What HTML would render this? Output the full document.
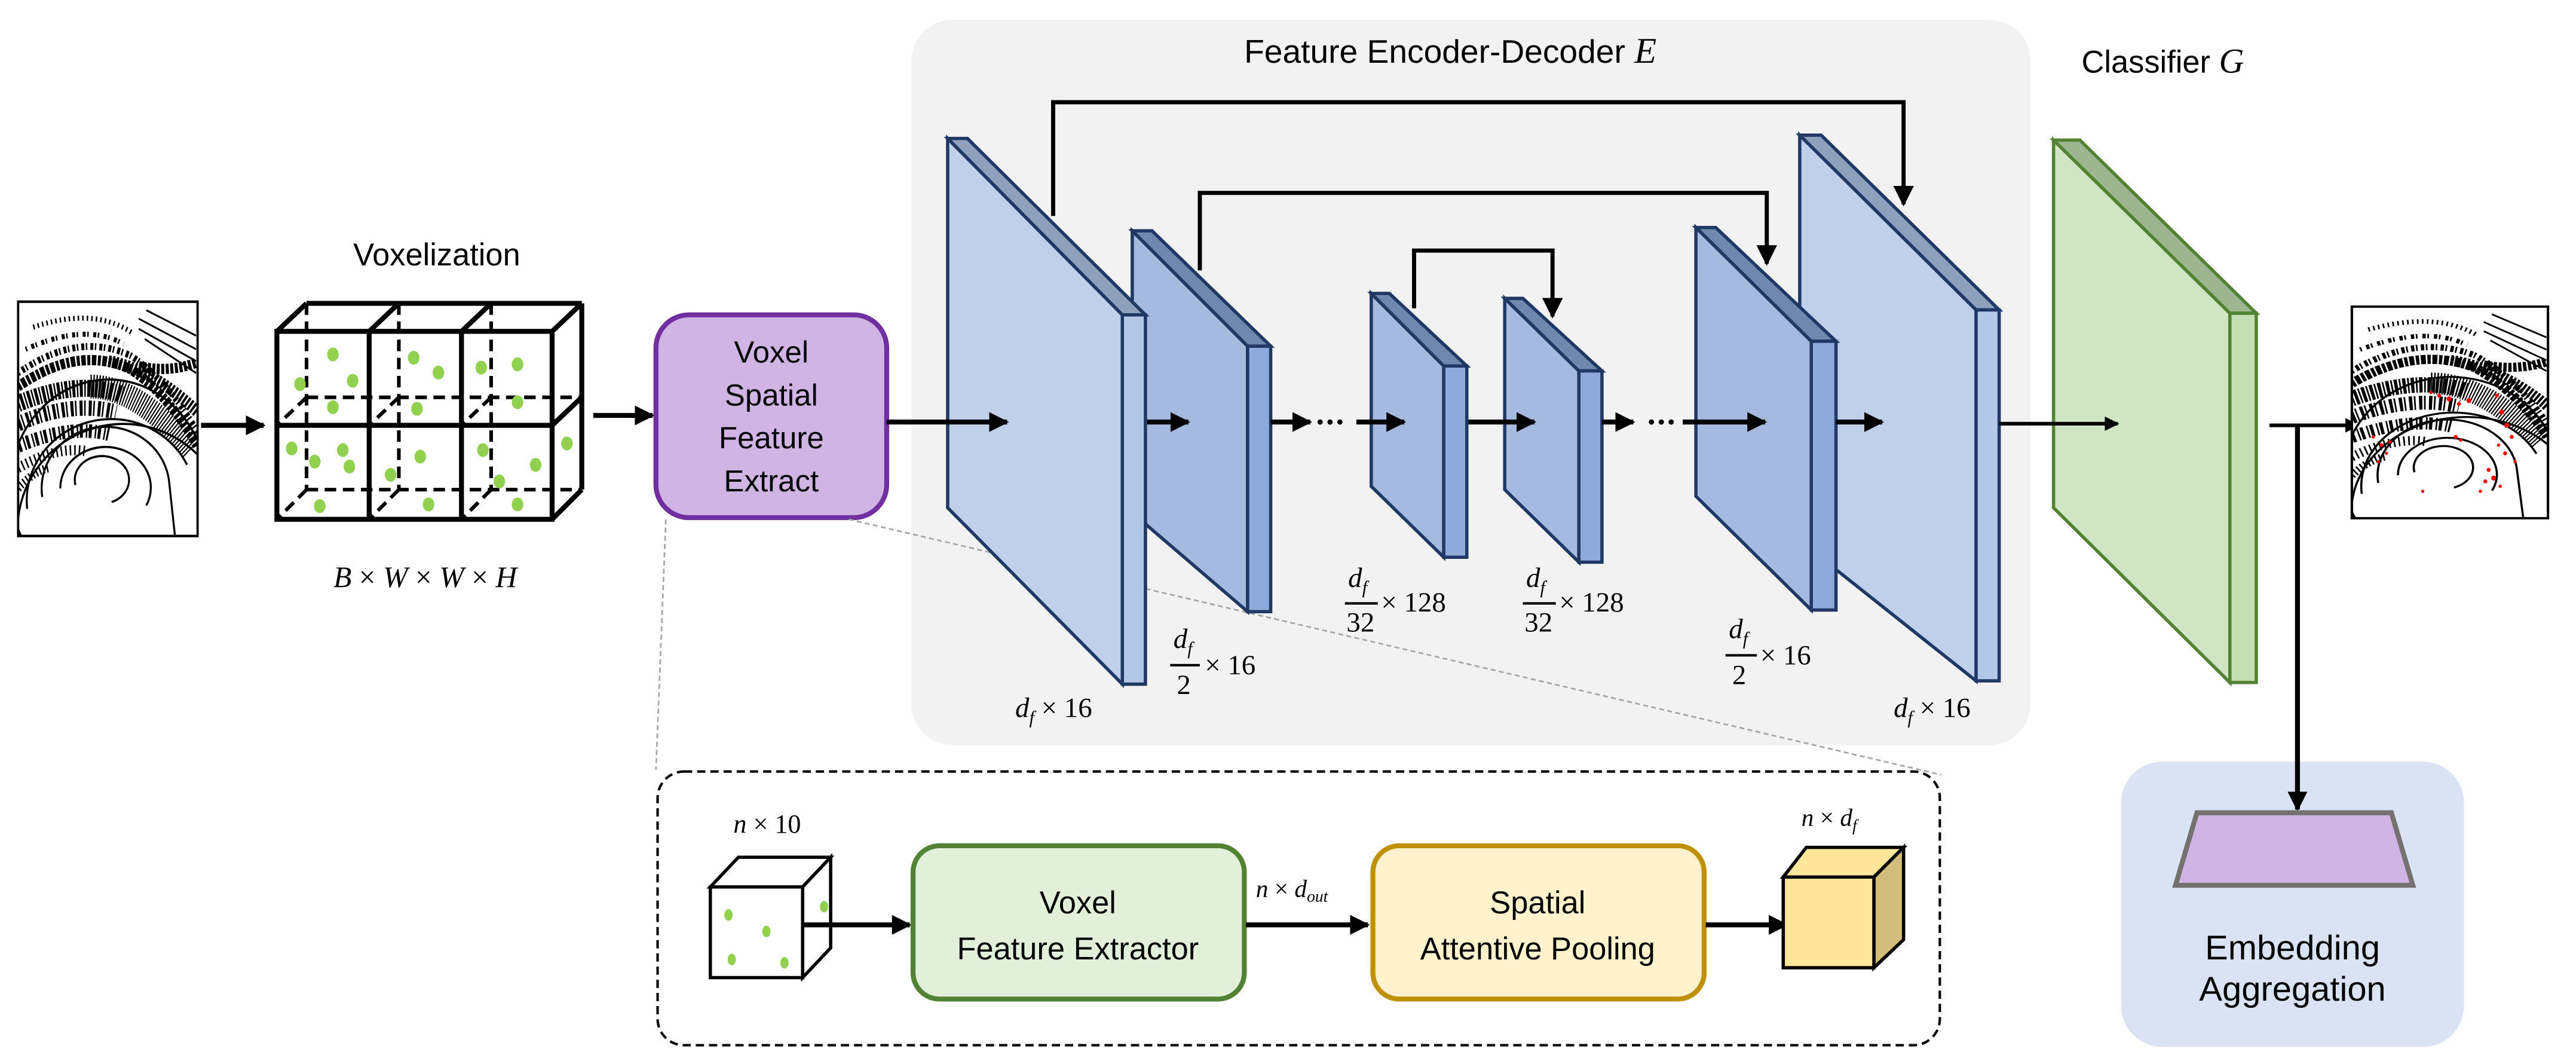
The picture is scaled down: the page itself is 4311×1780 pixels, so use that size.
<!DOCTYPE html>
<html><head><meta charset="utf-8"><style>
html,body{margin:0;padding:0;background:#fff;}
svg{display:block;}
.t{font-family:"Liberation Sans",sans-serif;fill:#000;}
.m{font-family:"Liberation Serif",serif;font-style:italic;fill:#000;}
.n{font-family:"Liberation Serif",serif;fill:#000;}
</style></head><body>
<svg width="4311" height="1780" viewBox="0 0 1563 645.4" preserveAspectRatio="none" xmlns="http://www.w3.org/2000/svg">
<defs>
<marker id="ah" viewBox="0 0 10 10" refX="9" refY="5" markerWidth="4" markerHeight="4" orient="auto"><path d="M0,0 L10,5 L0,10 z" fill="#000"/></marker>
<marker id="ah2" viewBox="0 0 10 10" refX="9" refY="5" markerWidth="5" markerHeight="5" orient="auto"><path d="M0,0 L10,5 L0,10 z" fill="#000"/></marker>
<clipPath id="lc"><rect x="0" y="0" width="119" height="138"/></clipPath>
<g id="lidar">
<rect x="0" y="0" width="119" height="138" fill="#fff"/>
<g clip-path="url(#lc)">
<g fill="none" stroke="#000" stroke-width="1.3">
<path d="M38,108 A18,14 0 1 1 62,118"/>
<path d="M28,110 A30,24 0 1 1 85,120"/>
<path d="M16,115 A42,36 0 0 1 100,105 L104,138"/>
<path d="M6,122 A56,48 0 0 1 112,96"/>
<path d="M2,138 A62,60 0 0 1 118,80"/>
<path d="M0,128 A70,62 0 0 1 119,90"/>
</g>
<g fill="none" stroke="#000">
<path d="M0,50 Q40,25 75,40 Q100,55 119,85" stroke-width="6" stroke-dasharray="2 1 3 1"/>
<path d="M0,42 Q40,17 75,32 Q100,47 119,77" stroke-width="4" stroke-dasharray="1 2 2 1"/>
<path d="M0,60 Q40,45 70,55" stroke-width="10" stroke-dasharray="1 1 2 1"/>
<path d="M0,72 Q35,58 65,65" stroke-width="9" stroke-dasharray="2 1 1 2"/>
<path d="M0,85 Q35,72 60,78" stroke-width="8" stroke-dasharray="2 2 1 1"/>
<path d="M0,98 Q25,85 45,88" stroke-width="6" stroke-dasharray="1 2"/>
<path d="M48,50 Q80,50 115,88" stroke-width="14" stroke-dasharray="0.8 1"/>
<path d="M60,35 Q90,40 119,65" stroke-width="7" stroke-dasharray="1.5 1"/>
<path d="M85,5 L118,20 M80,10 L118,28 M80,16 L118,35 M84,22 L118,42" stroke-width="1.1"/>
<path d="M10,15 Q50,3 75,18" stroke-width="3" stroke-dasharray="1 2"/>
<path d="M5,28 Q45,12 70,25" stroke-width="3" stroke-dasharray="1 3 2 1"/>
<path d="M80,38 Q100,42 118,36" stroke-width="6" stroke-dasharray="2 1"/>
<path d="M0,110 Q10,100 20,98" stroke-width="5" stroke-dasharray="1 1.5"/>
</g>
</g>
<rect x="0" y="0" width="119" height="138" fill="none" stroke="#000" stroke-width="1.5"/>
</g>
</defs>

<!-- input lidar -->
<g transform="translate(11,183) scale(0.915,1.03)"><use href="#lidar"/></g>
<line x1="122" y1="258" x2="160" y2="258" stroke="#000" stroke-width="3" marker-end="url(#ah)"/>

<!-- voxel grid -->
<text x="265" y="161" class="t" font-size="19" text-anchor="middle">Voxelization</text>
<g stroke="#000" fill="none">
<g stroke-width="2.2" stroke-dasharray="7 4">
<line x1="186" y1="184" x2="186" y2="297"/><line x1="242" y1="184" x2="242" y2="297"/><line x1="298" y1="184" x2="298" y2="297"/>
<line x1="186" y1="241" x2="353" y2="241"/><line x1="186" y1="297" x2="353" y2="297"/>
<line x1="186" y1="241" x2="168" y2="258"/><line x1="242" y1="241" x2="224" y2="258"/><line x1="298" y1="241" x2="280" y2="258"/>
<line x1="186" y1="297" x2="168" y2="315"/><line x1="242" y1="297" x2="224" y2="315"/><line x1="298" y1="297" x2="280" y2="315"/>
</g>
<g stroke-width="3">
<line x1="186" y1="184" x2="353" y2="184"/>
<line x1="353" y1="184" x2="353" y2="297"/>
<line x1="186" y1="184" x2="168" y2="201"/><line x1="242" y1="184" x2="224" y2="201"/><line x1="298" y1="184" x2="280" y2="201"/><line x1="353" y1="184" x2="335" y2="201"/>
<line x1="353" y1="241" x2="335" y2="258"/><line x1="353" y1="297" x2="335" y2="315"/>
<rect x="168" y="201" width="167" height="114"/>
<line x1="168" y1="258" x2="335" y2="258"/>
<line x1="224" y1="201" x2="224" y2="315"/><line x1="280" y1="201" x2="280" y2="315"/>
</g>
</g>
<g fill="#92d050">
<ellipse cx="202" cy="215" rx="3.5" ry="4.2"/><ellipse cx="182" cy="233" rx="3.5" ry="4.2"/><ellipse cx="214" cy="231" rx="3.5" ry="4.2"/><ellipse cx="202" cy="247" rx="3.5" ry="4.2"/>
<ellipse cx="251" cy="217" rx="3.5" ry="4.2"/><ellipse cx="266" cy="226" rx="3.5" ry="4.2"/><ellipse cx="253" cy="248" rx="3.5" ry="4.2"/><ellipse cx="292" cy="223" rx="3.5" ry="4.2"/>
<ellipse cx="314" cy="221" rx="3.5" ry="4.2"/><ellipse cx="314" cy="244" rx="3.5" ry="4.2"/><ellipse cx="177" cy="272" rx="3.5" ry="4.2"/><ellipse cx="208" cy="273" rx="3.5" ry="4.2"/>
<ellipse cx="191" cy="280" rx="3.5" ry="4.2"/><ellipse cx="212" cy="283" rx="3.5" ry="4.2"/><ellipse cx="194" cy="307" rx="3.5" ry="4.2"/><ellipse cx="255" cy="277" rx="3.5" ry="4.2"/>
<ellipse cx="237" cy="288" rx="3.5" ry="4.2"/><ellipse cx="260" cy="306" rx="3.5" ry="4.2"/><ellipse cx="293" cy="273" rx="3.5" ry="4.2"/><ellipse cx="325" cy="282" rx="3.5" ry="4.2"/>
<ellipse cx="303" cy="292" rx="3.5" ry="4.2"/><ellipse cx="314" cy="306" rx="3.5" ry="4.2"/><ellipse cx="344" cy="269" rx="3.5" ry="4.2"/>
</g>
<text x="258" y="356" class="m" font-size="18" text-anchor="middle">B <tspan class="n" font-style="normal">×</tspan> W <tspan font-style="normal">×</tspan> W <tspan font-style="normal">×</tspan> H</text>
<line x1="360" y1="252" x2="396" y2="252" stroke="#000" stroke-width="3" marker-end="url(#ah)"/>

<!-- purple box -->
<rect x="398" y="191" width="140" height="123" rx="20" fill="#d0b4e4" stroke="#7030a0" stroke-width="3"/>
<g class="t" font-size="18.5" text-anchor="middle">
<text x="468" y="220">Voxel</text><text x="468" y="246">Spatial</text><text x="468" y="272">Feature</text><text x="468" y="298">Extract</text>
</g>

<!-- gray panel -->
<rect x="553" y="12" width="679" height="440" rx="25" fill="#f2f2f2"/>
<text x="880" y="38" class="t" font-size="20" text-anchor="middle">Feature Encoder-Decoder <tspan class="m" font-size="22">E</tspan></text>

<!-- dashed zoom lines -->
<g stroke="#a6a6a6" stroke-width="1" stroke-dasharray="3 2" fill="none">
<line x1="404" y1="315" x2="398" y2="467"/>
<line x1="515" y1="315" x2="1178" y2="470"/>
</g>

<!-- planes -->
<g stroke="#203864" stroke-width="2" stroke-linejoin="miter">
<polygon points="687,140 757,210 757,371 687,311" fill="#a6badf"/>
<polygon points="687,140 699,140 771,210 757,210" fill="#6f88b0"/>
<polygon points="757,210 771,210 771,371 757,371" fill="#8eaadb"/>
<polygon points="575,84 681,191 681,415 575,308" fill="#c0d0ea"/>
<polygon points="575,84 587,84 695,191 681,191" fill="#8ea0bc"/>
<polygon points="681,191 695,191 695,415 681,415" fill="#b3c7e6"/>
<polygon points="832,178 876,222 876,338 832,295" fill="#a6badf"/>
<polygon points="832,178 843,178 890,222 876,222" fill="#6f88b0"/>
<polygon points="876,222 890,222 890,338 876,338" fill="#8eaadb"/>
<polygon points="913,181 958,225 958,341 913,297" fill="#a6badf"/>
<polygon points="913,181 924,181 972,225 958,225" fill="#6f88b0"/>
<polygon points="958,225 972,225 972,341 958,341" fill="#8eaadb"/>
<polygon points="1092,82 1199,188 1199,413 1092,328" fill="#c0d0ea"/>
<polygon points="1092,82 1105,82 1213,188 1199,188" fill="#8ea0bc"/>
<polygon points="1199,188 1213,188 1213,413 1199,413" fill="#b3c7e6"/>
<polygon points="1029,138 1099,207 1099,370 1029,301" fill="#a6badf"/>
<polygon points="1029,138 1041,138 1114,207 1099,207" fill="#6f88b0"/>
<polygon points="1099,207 1114,207 1114,370 1099,370" fill="#8eaadb"/>
</g>

<!-- skip connections -->
<g stroke="#000" stroke-width="2.5" fill="none">
<polyline points="639,131 639,62 1155,62 1155,124" marker-end="url(#ah2)"/>
<polyline points="728,164 728,117 1072,117 1072,160" marker-end="url(#ah2)"/>
<polyline points="858,187 858,152 942,152 942,192" marker-end="url(#ah2)"/>
</g>

<!-- classifier -->
<text x="1263" y="44" class="t" font-size="19">Classifier <tspan class="m" font-size="21">G</tspan></text>
<g stroke="#548235" stroke-width="2">
<polygon points="1246,85 1353,190 1353,414 1246,308" fill="#d0e5c3"/>
<polygon points="1246,85 1262,85 1369,190 1353,190" fill="#9eb690"/>
<polygon points="1353,190 1369,190 1369,414 1353,414" fill="#c5dfb3"/>
</g>

<!-- horizontal arrows -->
<g stroke="#000" stroke-width="3" marker-end="url(#ah)">
<line x1="538" y1="256" x2="611" y2="256"/>
<line x1="696" y1="256" x2="721" y2="256"/>
<line x1="771" y1="256" x2="795" y2="256"/>
<line x1="823" y1="256" x2="852" y2="256"/>
<line x1="891" y1="256" x2="931" y2="256"/>
<line x1="972" y1="256" x2="991" y2="256"/>
<line x1="1021" y1="256" x2="1071" y2="256"/>
<line x1="1114" y1="256" x2="1142" y2="256"/>
</g>
<line x1="1213" y1="257" x2="1285" y2="257" stroke="#000" stroke-width="2.2" marker-end="url(#ah)"/>
<g fill="#000"><circle cx="801" cy="256" r="1.6"/><circle cx="807" cy="256" r="1.6"/><circle cx="813" cy="256" r="1.6"/>
<circle cx="1002" cy="256" r="1.6"/><circle cx="1008" cy="256" r="1.6"/><circle cx="1014" cy="256" r="1.6"/></g>

<!-- plane labels -->
<g font-size="17">
<text x="616" y="435" class="m">d<tspan font-size="11" dy="4">f</tspan><tspan class="n" font-style="normal" dy="-4"> × 16</tspan></text>
<text x="1149" y="435" class="m">d<tspan font-size="11" dy="4">f</tspan><tspan class="n" font-style="normal" dy="-4"> × 16</tspan></text>
<text x="712" y="393" class="m">d<tspan font-size="11" dy="4">f</tspan></text>
<line x1="710" y1="403.5" x2="728" y2="403.5" stroke="#000" stroke-width="1.5"/>
<text x="714" y="421" class="n">2</text>
<text x="731" y="409" class="n">× 16</text>
<text x="1049" y="387" class="m">d<tspan font-size="11" dy="4">f</tspan></text>
<line x1="1047" y1="397.5" x2="1066" y2="397.5" stroke="#000" stroke-width="1.5"/>
<text x="1051" y="415" class="n">2</text>
<text x="1068" y="403" class="n">× 16</text>
<text x="818" y="356" class="m">d<tspan font-size="11" dy="4">f</tspan></text>
<line x1="816" y1="366" x2="836" y2="366" stroke="#000" stroke-width="1.5"/>
<text x="817" y="383" class="n">32</text>
<text x="838" y="371" class="n">× 128</text>
<text x="926" y="356" class="m">d<tspan font-size="11" dy="4">f</tspan></text>
<line x1="924" y1="366" x2="944" y2="366" stroke="#000" stroke-width="1.5"/>
<text x="925" y="383" class="n">32</text>
<text x="946" y="371" class="n">× 128</text>
</g>

<line x1="1377" y1="258" x2="1431" y2="258" stroke="#000" stroke-width="2.2" marker-end="url(#ah)"/>

<!-- output lidar -->
<g transform="translate(1427,186) scale(1,0.93)"><use href="#lidar"/></g>
<g fill="#f00">
<circle cx="1440" cy="265" r="1"/><circle cx="1445" cy="270" r="1.2"/><circle cx="1448" cy="275" r="1"/><circle cx="1443" cy="280" r="1"/><circle cx="1450" cy="268" r="1"/>
<circle cx="1480" cy="240" r="1.2"/><circle cx="1486" cy="242" r="1.5"/><circle cx="1492" cy="245" r="1.2"/><circle cx="1498" cy="243" r="1.5"/><circle cx="1475" cy="238" r="1"/>
<circle cx="1515" cy="240" r="1.2"/><circle cx="1518" cy="250" r="1.5"/><circle cx="1521" cy="258" r="1.5"/><circle cx="1524" cy="265" r="1.2"/><circle cx="1516" cy="270" r="1"/>
<circle cx="1510" cy="285" r="1.2"/><circle cx="1513" cy="290" r="1.5"/><circle cx="1517" cy="295" r="1"/><circle cx="1505" cy="298" r="1"/><circle cx="1508" cy="292" r="1.2"/>
<circle cx="1490" cy="265" r="1.2"/><circle cx="1493" cy="267" r="1"/><circle cx="1470" cy="298" r="1"/><circle cx="1520" cy="275" r="1.2"/><circle cx="1526" cy="280" r="1"/>
</g>

<!-- embedding -->
<rect x="1287" y="462" width="208" height="173" rx="25" fill="#dae3f3"/>
<line x1="1394" y1="258" x2="1394" y2="491" stroke="#000" stroke-width="3" marker-end="url(#ah)"/>
<polygon points="1333,493 1451,493 1464,537 1320,537" fill="#d0b4e4" stroke="#767171" stroke-width="3"/>
<text x="1391" y="582" class="t" font-size="21" text-anchor="middle">Embedding</text>
<text x="1391" y="607" class="t" font-size="21" text-anchor="middle">Aggregation</text>

<!-- bottom dashed box -->
<rect x="399" y="468" width="778" height="166" rx="16" fill="none" stroke="#000" stroke-width="1.5" stroke-dasharray="5 3"/>
<text x="445" y="505" class="m" font-size="16">n <tspan class="n" font-style="normal">× 10</tspan></text>
<g stroke="#000" stroke-width="2">
<polygon points="431,538 448,520 504,520 487,538" fill="#fff"/>
<polygon points="487,538 504,520 504,575 487,593" fill="#fff"/>
<rect x="431" y="538" width="56" height="55" fill="#fff"/>
</g>
<g fill="#92d050">
<ellipse cx="442" cy="555" rx="2.5" ry="3.5"/><ellipse cx="500" cy="550" rx="2.5" ry="3.5"/><ellipse cx="465" cy="565" rx="2.5" ry="3.5"/>
<ellipse cx="444" cy="582" rx="2.5" ry="3.5"/><ellipse cx="476" cy="584" rx="2.5" ry="3.5"/>
</g>
<line x1="488" y1="561" x2="552" y2="561" stroke="#000" stroke-width="3" marker-end="url(#ah)"/>
<rect x="554" y="513" width="201" height="93" rx="16" fill="#e2efd9" stroke="#548235" stroke-width="3"/>
<text x="654" y="554" class="t" font-size="19" text-anchor="middle">Voxel</text>
<text x="654" y="582" class="t" font-size="19" text-anchor="middle">Feature Extractor</text>
<text x="762" y="544" class="m" font-size="15">n <tspan class="n" font-style="normal">×</tspan> d<tspan font-size="10" dy="3">out</tspan></text>
<line x1="756" y1="561" x2="830" y2="561" stroke="#000" stroke-width="3" marker-end="url(#ah)"/>
<rect x="833" y="513" width="201" height="93" rx="16" fill="#fff2cc" stroke="#bf9000" stroke-width="3"/>
<text x="933" y="554" class="t" font-size="19" text-anchor="middle">Spatial</text>
<text x="933" y="582" class="t" font-size="19" text-anchor="middle">Attentive Pooling</text>
<line x1="1035" y1="561" x2="1084" y2="561" stroke="#000" stroke-width="3" marker-end="url(#ah)"/>
<text x="1093" y="501" class="m" font-size="15">n <tspan class="n" font-style="normal">×</tspan> d<tspan font-size="10" dy="3">f</tspan></text>
<g stroke="#000" stroke-width="2">
<polygon points="1082,532 1096,514 1155,514 1137,532" fill="#ffe699"/>
<polygon points="1137,532 1155,514 1155,570 1137,587" fill="#d4bc7c"/>
<rect x="1082" y="532" width="55" height="55" fill="#ffe699"/>
</g>
</svg>
</body></html>
